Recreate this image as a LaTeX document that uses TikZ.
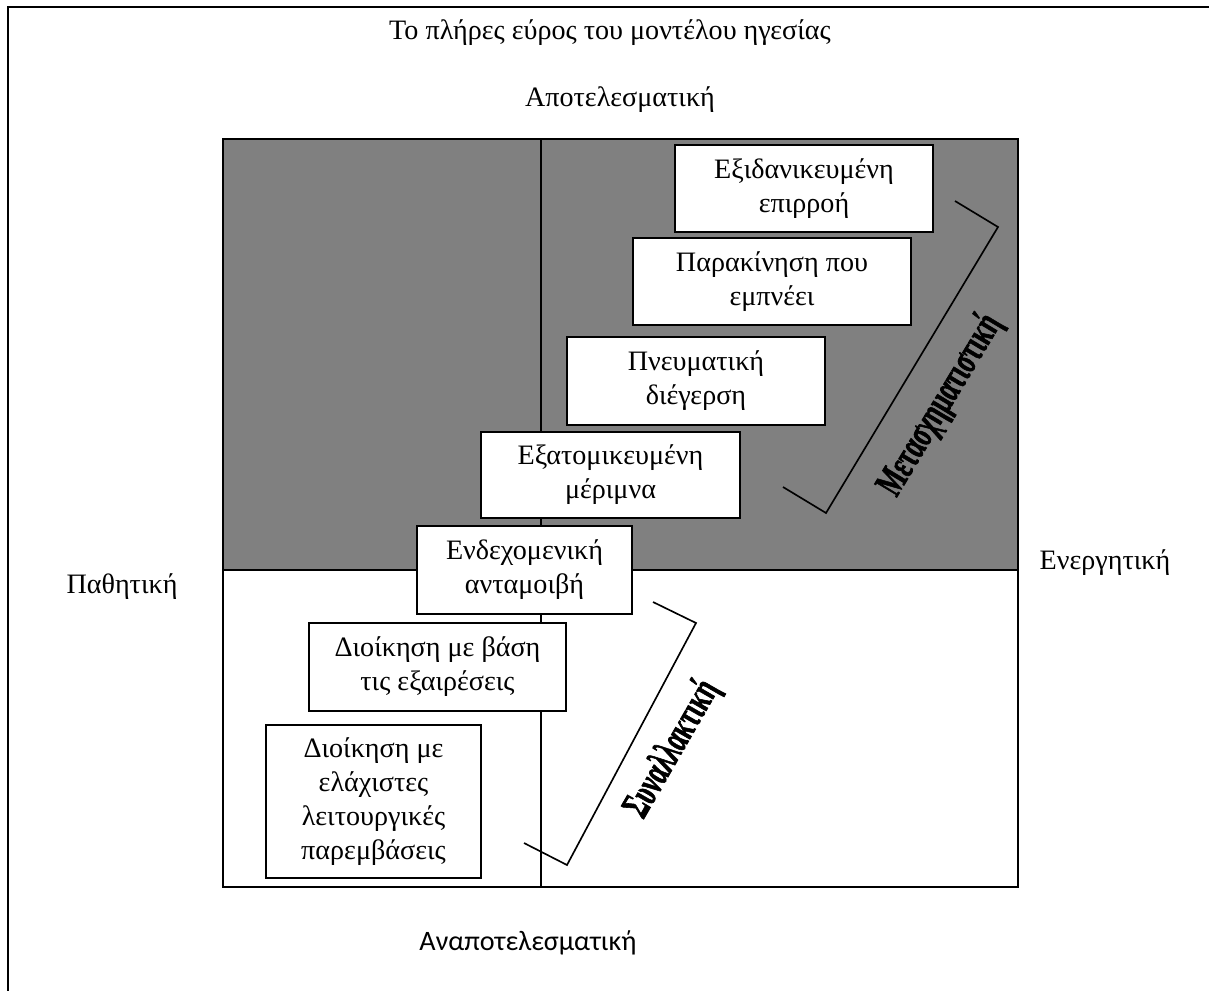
\documentclass[tikz,border=0pt]{standalone}
\usepackage{fontspec}
\setmainfont{Liberation Serif}
\newfontfamily\calibri{Carlito}
\newfontfamily\artfont[BoldFeatures={FakeBold=2}]{Liberation Serif}
\usepackage{tikz}
\usetikzlibrary{calc}
\usepackage{xcolor}

\tikzset{
  levelbox/.style={draw, fill=white, line width=0.9pt, align=center, inner sep=0pt},
  brace/.style={line width=0.7pt},
  wordart/.style={font=\artfont\bfseries, inner sep=0pt}
}

\begin{document}
\begin{tikzpicture}[x=0.015cm, y=-0.015cm, font=\fontsize{12}{14.5}\selectfont]
    \useasboundingbox (0,0) rectangle (1209,991);
    \draw[line width=0.9pt] (8,991) -- (8,7) -- (1209,7);
    % quadrants
    \fill[black!50] (223,139) rectangle (1018,570);
    \draw[line width=0.9pt] (223,139) rectangle (1018,887);
    \draw[line width=0.9pt] (541,139) -- (541,887);
    \draw[line width=0.9pt] (223,570) -- (1018,570);
    \node (title) at (610,33) {Το πλήρες εύρος του μοντέλου ηγεσίας};
    \node (eff) at (620,100) {Αποτελεσματική};
    \node (ineff) at (528,943) {\calibri Αναποτελεσματική};
    \node (pass) at (122,587) {Παθητική};
    \node (act) at (1105,563) {Ενεργητική};
    \foreach \n/\x/\y/\w/\h/\t in {
        1/804/188.5/3.87/1.305/{Εξιδανικευμένη\\επιρροή},
        2/772/281.5/4.17/1.305/{Παρακίνηση που\\εμπνέει},
        3/696/381/3.87/1.32/{Πνευματική\\διέγερση},
        4/610.5/475/3.89/1.29/{Εξατομικευμένη\\μέριμνα},
        5/524.5/570/3.225/1.32/{Ενδεχομενική\\ανταμοιβή},
        6/437.5/667/3.855/1.32/{Διοίκηση με βάση\\τις εξαιρέσεις},
        7/373.5/801.5/3.225/2.295/{Διοίκηση με\\ελάχιστες\\λειτουργικές\\παρεμβάσεις}} {
        \node[levelbox, minimum width=\w cm, minimum height=\h cm] (b\n) at (\x,\y) {\t};
    }
    % brackets
    \draw[brace] (955,201) -- (998,227) -- (826,513) -- (783,487);
    \draw[brace] (653,602) -- (696,623) -- (567,865) -- (524,843);
    \node[wordart, rotate=59] (trans) at (940,405) {\scalebox{1.05}[1.7]{Μετασχηματιστική}};
    \node[wordart, rotate=60] (transact) at (672,749) {\scalebox{1.05}[1.7]{Συναλλακτική}};
\end{tikzpicture}
\end{document}
